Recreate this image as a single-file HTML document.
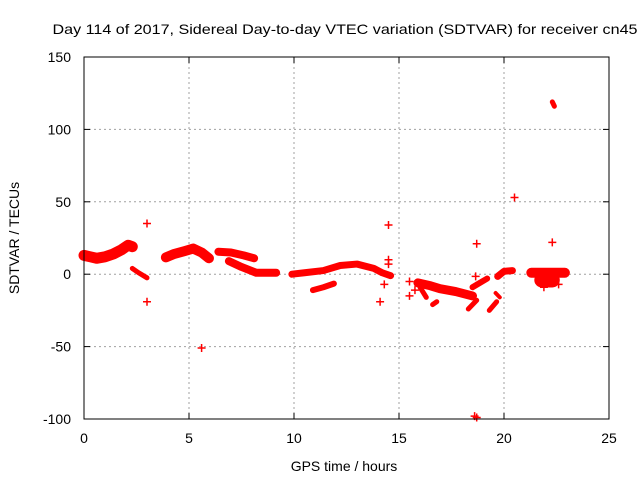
<!DOCTYPE html>
<html><head><meta charset="utf-8"><style>
body{margin:0;background:#fff}
svg{display:block;font-family:"Liberation Sans",sans-serif}
</style></head><body>
<svg id="chart" width="640" height="480" viewBox="0 0 640 480">
<rect width="640" height="480" fill="#fff"/>
<text x="345" y="34" text-anchor="middle" font-size="14" textLength="585" lengthAdjust="spacingAndGlyphs">Day 114 of 2017, Sidereal Day-to-day VTEC variation (SDTVAR) for receiver cn45</text>
<text transform="translate(19,238) rotate(-90)" text-anchor="middle" font-size="14">SDTVAR / TECUs</text>
<text x="344" y="471" text-anchor="middle" font-size="14">GPS time / hours</text>
<g id="grid"></g><g id="marks"></g><g id="axes"></g>
</svg>
<script>
const xTicks=[0,5,10,15,20,25];
const yTicks=[-100,-50,0,50,100,150];
// arcs: dense tracks of points (hours, TECU)
const arcHours=[
[0,0.3,0.6,1,1.4,1.8,2.1,2.3],
[2.3,2.6,3.0],
[3.9,4.3,4.8,5.2,5.6,5.95],
[6.4,7.0,7.6,8.1],
[6.9,7.5,8.2,8.7,9.15],
[9.9,10.5,11.4,12.2,13.0,13.8,14.2,14.6],
[10.9,11.4,11.9],
[15.9,16.5,16.95,17.7,18.5],
[18.5,18.85,19.2],
[19.7,20.0,20.4],
[16.0,16.3],
[16.6,16.8],
[18.3,18.7],
[19.3,19.65],
[19.6,19.8],
[22.3,22.4],
[21.3,22.1,22.9],
[21.8,22.3]
];
const arcValues=[
[13,12,11,12,14,17,20,19],
[4,1,-2.5],
[11.6,14,16,17.7,15,11],
[15.5,15,13,11],
[9,5,1,1,1],
[0,1,2.5,6,7,4,1,-1],
[-11,-9,-6.5],
[-6,-8,-10,-12,-15],
[-9,-6,-3],
[-1.5,2,2.5],
[-9,-16],
[-21,-19],
[-24,-18],
[-25,-19],
[-13,-16],
[119,116],
[1,1,1],
[-4,-4]
];
const arcWidth=[11,5,10,8,8,7,6,9,6,7,5,5,5,5,4,5,10,15];
const ptHours=[3.0,3.0,5.6,14.1,14.3,14.5,14.5,14.5,15.5,15.76,15.5,18.7,18.65,18.6,18.7,20.5,22.3,21.9,22.6];
const ptValues=[35,-19,-51,-19,-7,34,10,7,-15,-11,-5,21,-1.5,-98,-99,53,22,-9,-7];

const NS='http://www.w3.org/2000/svg';
const X0=84,X1=609,Y0=419,Y1=57;
const xs=h=>X0+(h-0)/25*(X1-X0);
const ys=v=>Y0-(v+100)/250*(Y0-Y1);
function mk(t,a,p){const e=document.createElementNS(NS,t);for(const k in a)e.setAttribute(k,a[k]);p.appendChild(e);return e;}
const grid=document.getElementById('grid'),marks=document.getElementById('marks'),axes=document.getElementById('axes');
xTicks.forEach(t=>{
 const x=xs(t);
 if(t>0&&t<25){const g=mk('line',{x1:x,x2:x,y1:Y1,y2:Y0,stroke:'#a0a0a0','stroke-dasharray':'2,3'},grid);
 
 }
 mk('line',{x1:x,x2:x,y1:Y0,y2:Y0-6,stroke:'#000'},axes);
 mk('line',{x1:x,x2:x,y1:Y1,y2:Y1+6,stroke:'#000'},axes);
 const l=mk('text',{x:x,y:443,'text-anchor':'middle','font-size':'14'},axes);l.textContent=t;
 
 
});
yTicks.forEach(t=>{
 const y=ys(t);
 if(t>-100&&t<150){const g=mk('line',{x1:X0,x2:X1,y1:y,y2:y,stroke:'#a0a0a0','stroke-dasharray':'2,3'},grid);
 
 }
 mk('line',{x1:X0,x2:X0+6,y1:y,y2:y,stroke:'#000'},axes);
 mk('line',{x1:X1,x2:X1-6,y1:y,y2:y,stroke:'#000'},axes);
 const l=mk('text',{x:71,y:y+5,'text-anchor':'end','font-size':'14'},axes);l.textContent=t;
 
 
});
const fr=mk('rect',{x:X0,y:Y1,width:X1-X0,height:Y0-Y1,fill:'none',stroke:'#000'},axes);


arcHours.forEach((hs,i)=>{
 const pts=hs.map((h,j)=>xs(h)+','+ys(arcValues[i][j])).join(' ');
 const p=mk('polyline',{points:pts,fill:'none',stroke:'#f00','stroke-width':arcWidth[i],'stroke-linejoin':'round','stroke-linecap':'round'},marks);
 
 
});
ptHours.forEach((h,i)=>{
 const x=xs(h),y=ys(ptValues[i]);
 const p=mk('path',{d:`M${x-4},${y}H${x+4}M${x},${y-4}V${y+4}`,stroke:'#f00','stroke-width':1.5},marks);
 
 
});
</script>
</body></html>
